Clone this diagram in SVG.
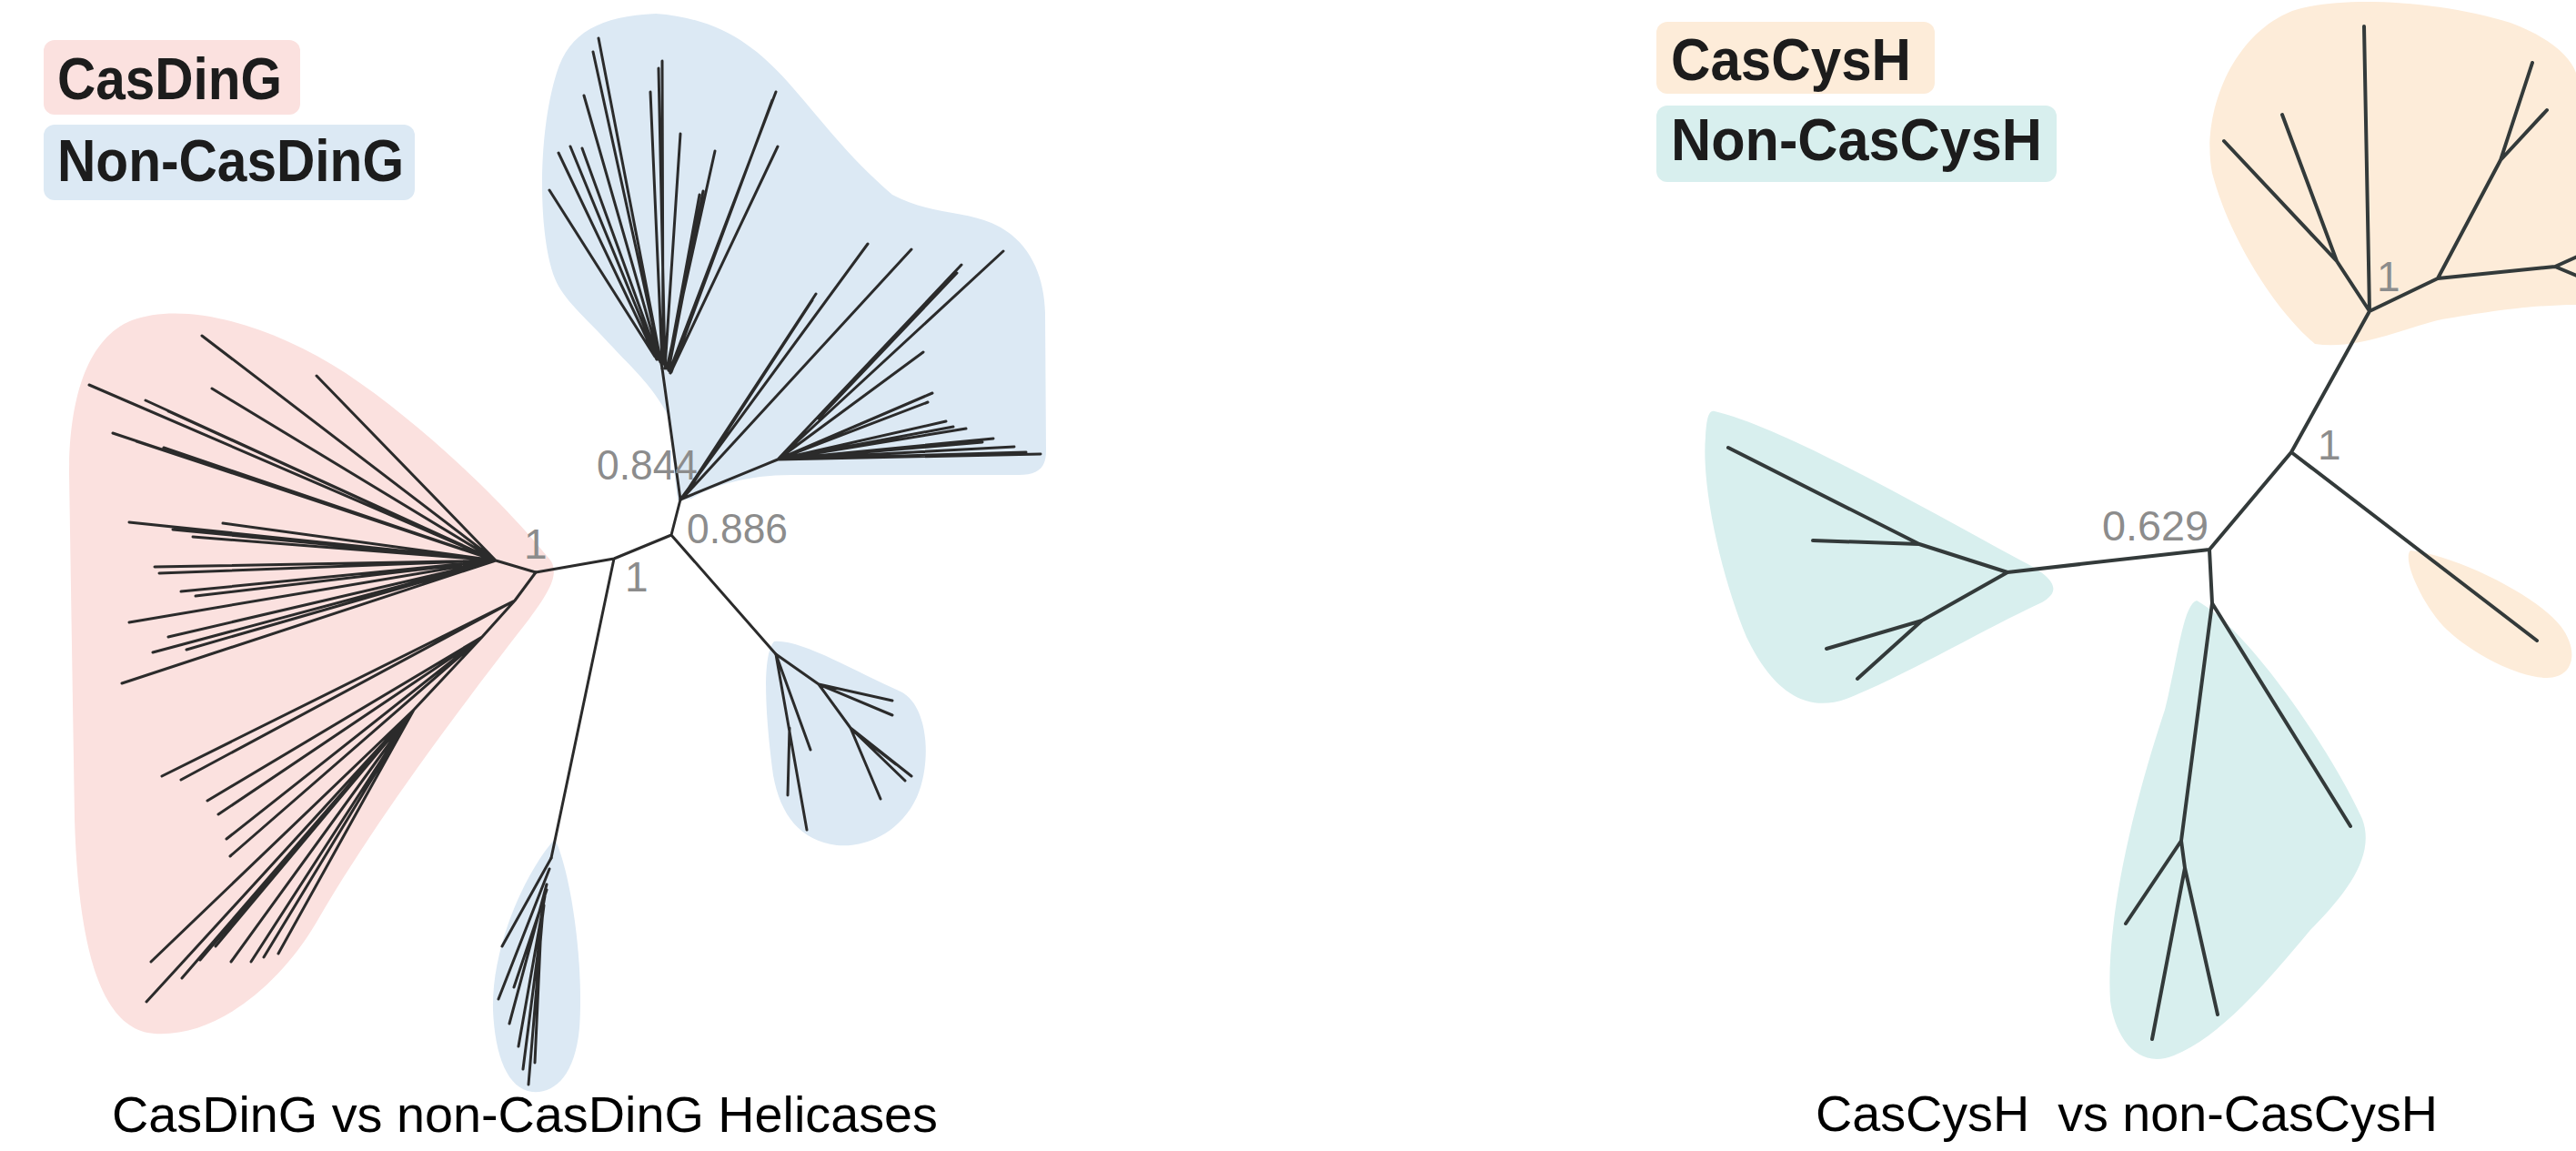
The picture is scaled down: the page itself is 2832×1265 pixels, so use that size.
<svg xmlns="http://www.w3.org/2000/svg" width="2832" height="1265" viewBox="0 0 2832 1265">
<style>
.bg{fill:#ffffff}
.pink{fill:#fbe1df}
.blue{fill:#dce9f4}
.peach{fill:#fdecd9}
.teal{fill:#d8efee}
.br{fill:none;stroke:#2b2b2b;stroke-width:3;stroke-linecap:round;stroke-linejoin:round}
.brR{fill:none;stroke:#333a3a;stroke-width:4;stroke-linecap:round;stroke-linejoin:round}
.leg{font-family:"Liberation Sans",Arial,sans-serif;font-weight:bold;font-size:64px;fill:#1c1c1c}
.sup{font-family:"Liberation Sans",Arial,sans-serif;font-size:46px;fill:#8c8c8c}
.cap{font-family:"Liberation Sans",Arial,sans-serif;font-size:55px;fill:#000000}
</style>
<rect class="bg" x="0" y="0" width="2832" height="1265"/>

<!-- LEFT TREE -->
<g id="left-hulls">
<path class="pink" d="M602,612 C560,560 470,470 380,410 C300,358 205,330 145,352 C95,372 76,440 76,520 L82,900 C86,1040 110,1132 170,1136 C240,1140 310,1080 350,1010 C420,890 520,760 582,680 C604,650 618,628 602,612 Z"/>
<path class="blue" d="M745,550 C741,520 738,480 736,459 C715,420 690,400 675,383 C640,345 620,330 610,306 C592,262 590,150 612,80 C626,35 660,18 721,15 C790,20 830,50 866,90 C900,128 930,170 981,214 C1020,235 1060,232 1090,245 C1130,262 1148,300 1149,344 L1150,496 C1150,515 1140,522 1120,522 L870,522 C820,522 780,535 760,548 Z"/>
<path class="blue" d="M851,705 C880,702 940,738 990,760 C1022,776 1024,840 1008,876 C990,915 952,932 920,929 C880,924 858,896 850,852 C843,800 836,722 851,705 Z"/>
<path class="blue" d="M610,922 C628,960 642,1060 637,1130 C632,1182 610,1202 585,1200 C558,1197 544,1160 542,1110 C540,1040 578,958 610,922 Z"/>
</g>

<g id="left-legend">
<g id="legend-casding">
<rect class="pink" x="48" y="44" width="282" height="82" rx="12"/>
<text class="leg" x="63" y="109" textLength="247" lengthAdjust="spacingAndGlyphs">CasDinG</text>
</g>
<g id="legend-noncasding">
<rect class="blue" x="48" y="137" width="408" height="83" rx="12"/>
<text class="leg" x="63" y="199" textLength="381" lengthAdjust="spacingAndGlyphs">Non-CasDinG</text>
</g>
</g>

<g id="left-branches">
<path class="br" d="M589,629 L675,614 L738,588 L748,549 L728,405 M738,588 L853,719 M675,614 L606,943"/>
<!-- top fan -->
<path class="br" d="M728,405 L658,42 M727,400 L652,57 M726,398 L642,105 M722,395 L614,168 M723,395 L627,161 M724,395 L640,163 M720,392 L604,209 M729,400 L728,67 M731,402 L724,75 M728,400 L715,101 M731,405 L748,147 M733,405 L786,166 M734,405 L769,214 M735,407 L773,210 M736,408 L853,101 M738,409 L849,110 M737,410 L855,161"/>
<!-- right fan -->
<path class="br" d="M748,549 L954,268 M750,548 L1002,274 M749,549 L897,323 M751,548 L893,330 M748,549 L855,505 M855,505 L1103,276 M855,505 L1057,291 M900,460 L1052,300 M855,505 L1015,387 M855,505 L1025,432 M855,505 L1020,442 M855,505 L1048,469 M855,505 L1040,463 M855,505 L1062,471 M855,505 L1092,482 M855,505 L1080,486 M855,505 L1115,491 M855,505 L1144,499 M855,505 L1128,497"/>
<!-- middle clade -->
<path class="br" d="M853,719 L887,912 M853,719 L891,824 M868,800 L866,874 M853,719 L900,752 L981,770 M900,752 L981,786 M900,752 L935,800 L1002,853 M935,800 L995,858 M935,800 L968,878 M940,805 L985,840"/>
<!-- bottom clade -->
<path class="br" d="M606,943 L552,1040 M604,955 L548,1098 M601,972 L560,1125 M599,985 L570,1150 M597,1000 L581,1192 M595,1015 L588,1168 M598,995 L575,1175 M601,978 L565,1085"/>
<!-- pink upper fan -->
<path class="br" d="M589,629 L545,616 M545,616 L222,369 M545,616 L98,423 M545,616 L348,413 M545,616 L233,427 M545,616 L124,476 M545,616 L142,574 M545,616 L245,575 M545,616 L170,623 M545,616 L199,650 M545,616 L142,684 M545,616 L168,717 M545,616 L134,751 M545,616 L160,440 M545,616 L185,452 M545,616 L150,485 M545,616 L180,492 M545,616 L190,582 M545,616 L212,590 M545,616 L175,630 M545,616 L215,655 M545,616 L185,700 M545,616 L205,714"/>
<!-- pink lower fan -->
<path class="br" d="M589,629 L566,660 M566,660 L178,853 M566,660 L199,857 M566,660 L530,700 M530,700 L228,880 M530,700 L249,922 M530,700 L253,941 M530,700 L240,895 M530,700 L455,780 M455,780 L166,1057 M455,780 L161,1101 M455,780 L237,1040 M455,780 L254,1057 M455,780 L276,1057 M455,780 L306,1048 M455,780 L220,1055 M455,780 L290,1052 M455,780 L200,1075"/>
</g>

<g id="left-labels">
<text class="sup" x="656" y="527" textLength="111" lengthAdjust="spacingAndGlyphs">0.844</text>
<text class="sup" x="755" y="597" textLength="111" lengthAdjust="spacingAndGlyphs">0.886</text>
<text class="sup" x="576" y="614">1</text>
<text class="sup" x="687" y="650">1</text>
</g>

<!-- RIGHT TREE -->
<g id="right-hulls">
<path class="peach" d="M2545,378 C2500,340 2450,260 2432,190 C2420,130 2450,40 2520,12 C2570,-5 2680,0 2760,25 C2800,40 2825,60 2832,80 L2832,335 C2780,335 2720,345 2680,352 C2640,362 2590,385 2545,378 Z"/>
<path class="peach" d="M2650,605 C2700,610 2790,655 2815,688 C2836,715 2830,745 2800,745 C2770,745 2720,720 2690,692 C2665,668 2640,615 2650,605 Z"/>
<path class="teal" d="M1885,452 C1960,470 2100,550 2220,615 C2262,636 2266,650 2245,662 C2180,692 2100,740 2030,768 C1980,786 1945,752 1920,700 C1895,640 1870,540 1875,480 C1876,462 1878,450 1885,452 Z"/>
<path class="teal" d="M2415,660 C2470,690 2560,820 2597,900 C2612,940 2580,982 2540,1022 C2490,1082 2440,1140 2390,1160 C2350,1176 2325,1140 2320,1100 C2315,1020 2340,900 2380,780 C2395,720 2400,665 2415,660 Z"/>
</g>

<g id="right-legend">
<g id="legend-cascysh">
<rect class="peach" x="1821" y="24" width="306" height="79" rx="12"/>
<text class="leg" x="1837" y="88" textLength="264" lengthAdjust="spacingAndGlyphs">CasCysH</text>
</g>
<g id="legend-noncascysh">
<rect class="teal" x="1821" y="116" width="440" height="84" rx="12"/>
<text class="leg" x="1837" y="176" textLength="408" lengthAdjust="spacingAndGlyphs">Non-CasCysH</text>
</g>
</g>

<g id="right-branches">
<path class="brR" d="M2605,342 L2599,29 M2605,342 L2569,287 L2445,155 M2569,287 L2509,126 M2605,342 L2680,306 L2749,176 L2784,69 M2749,176 L2800,121 M2680,306 L2809,293 L2840,279 M2809,293 L2840,306 M2605,342 L2519,497 L2789,704 M2519,497 L2429,604 L2207,629 L2110,598 L1900,492 M2110,598 L1993,594 M2207,629 L2113,682 L2008,713 M2113,682 L2042,746 M2429,604 L2432,663 L2584,908 M2432,663 L2398,924 L2337,1015 M2398,924 L2402,954 L2366,1142 M2402,954 L2438,1115"/>
</g>

<g id="right-labels">
<text class="sup" x="2613" y="320">1</text>
<text class="sup" x="2548" y="505">1</text>
<text class="sup" x="2428" y="594" text-anchor="end" textLength="117" lengthAdjust="spacingAndGlyphs">0.629</text>
</g>

<g id="captions">
<text class="cap" x="123" y="1244" textLength="908" lengthAdjust="spacingAndGlyphs">CasDinG vs non-CasDinG Helicases</text>
<text class="cap" x="1996" y="1243" xml:space="preserve" textLength="684" lengthAdjust="spacingAndGlyphs">CasCysH  vs non-CasCysH</text>
</g>
</svg>
